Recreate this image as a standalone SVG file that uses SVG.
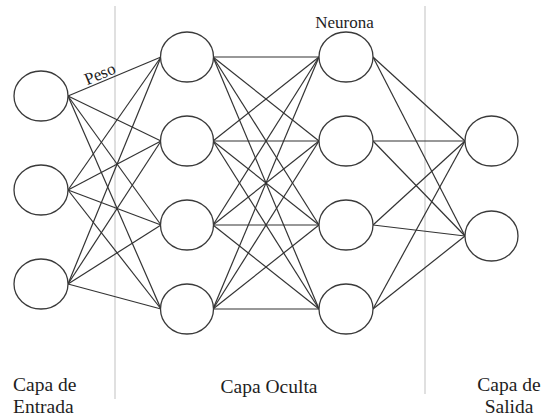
<svg xmlns="http://www.w3.org/2000/svg" width="542" height="418" viewBox="0 0 542 418">
<style>
.n{fill:#fff;stroke:#3a3a3a;stroke-width:1.3}
.c line{stroke:#333;stroke-width:1.2}
.sep{stroke:#d9d9d9;stroke-width:1.6}
.t{font-family:'Liberation Serif','DejaVu Serif',serif;fill:#1e1e1e}
.lbl{font-size:19.5px}
</style>
<rect width="542" height="418" fill="#fff"/>
<g id="separators">
<line class="sep" x1="115" y1="6" x2="115" y2="399"/>
<line class="sep" x1="425" y1="6" x2="425" y2="394"/>
</g>
<g id="connectors" class="c">
<line x1="68" y1="96" x2="161" y2="57"/>
<line x1="68" y1="96" x2="161" y2="141"/>
<line x1="68" y1="96" x2="161" y2="225"/>
<line x1="68" y1="96" x2="161" y2="309"/>
<line x1="68" y1="190" x2="161" y2="57"/>
<line x1="68" y1="190" x2="161" y2="141"/>
<line x1="68" y1="190" x2="161" y2="225"/>
<line x1="68" y1="190" x2="161" y2="309"/>
<line x1="68" y1="284" x2="161" y2="57"/>
<line x1="68" y1="284" x2="161" y2="141"/>
<line x1="68" y1="284" x2="161" y2="225"/>
<line x1="68" y1="284" x2="161" y2="309"/>
<line x1="213" y1="57" x2="319" y2="57"/>
<line x1="213" y1="57" x2="319" y2="141"/>
<line x1="213" y1="57" x2="319" y2="225"/>
<line x1="213" y1="57" x2="319" y2="309"/>
<line x1="213" y1="141" x2="319" y2="57"/>
<line x1="213" y1="141" x2="319" y2="141"/>
<line x1="213" y1="141" x2="319" y2="225"/>
<line x1="213" y1="141" x2="319" y2="309"/>
<line x1="213" y1="225" x2="319" y2="57"/>
<line x1="213" y1="225" x2="319" y2="141"/>
<line x1="213" y1="225" x2="319" y2="225"/>
<line x1="213" y1="225" x2="319" y2="309"/>
<line x1="213" y1="309" x2="319" y2="57"/>
<line x1="213" y1="309" x2="319" y2="141"/>
<line x1="213" y1="309" x2="319" y2="225"/>
<line x1="213" y1="309" x2="319" y2="309"/>
<line x1="373" y1="57" x2="465" y2="141"/>
<line x1="373" y1="57" x2="465" y2="236"/>
<line x1="373" y1="141" x2="465" y2="141"/>
<line x1="373" y1="141" x2="465" y2="236"/>
<line x1="373" y1="225" x2="465" y2="141"/>
<line x1="373" y1="225" x2="465" y2="236"/>
<line x1="373" y1="309" x2="465" y2="141"/>
<line x1="373" y1="309" x2="465" y2="236"/>
</g>
<g id="in1"><ellipse class="n" cx="41" cy="96" rx="27" ry="25"/></g>
<g id="in2"><ellipse class="n" cx="41" cy="190" rx="27" ry="25"/></g>
<g id="in3"><ellipse class="n" cx="41" cy="284" rx="27" ry="25"/></g>
<g id="h1a"><ellipse class="n" cx="187" cy="57" rx="26.5" ry="25"/></g>
<g id="h1b"><ellipse class="n" cx="187" cy="141" rx="26.5" ry="25"/></g>
<g id="h1c"><ellipse class="n" cx="187" cy="225" rx="26.5" ry="25"/></g>
<g id="h1d"><ellipse class="n" cx="187" cy="309" rx="26.5" ry="25"/></g>
<g id="h2a"><ellipse class="n" cx="346" cy="57" rx="27" ry="25"/></g>
<g id="h2b"><ellipse class="n" cx="346" cy="141" rx="27" ry="25"/></g>
<g id="h2c"><ellipse class="n" cx="346" cy="225" rx="27" ry="25"/></g>
<g id="h2d"><ellipse class="n" cx="346" cy="309" rx="27" ry="25"/></g>
<g id="out1"><ellipse class="n" cx="491.5" cy="141" rx="26.5" ry="25"/></g>
<g id="out2"><ellipse class="n" cx="491.5" cy="236" rx="26.5" ry="25"/></g>
<g id="labels" font-family="'Liberation Serif','DejaVu Serif',serif">
<text class="t" x="102" y="79" font-size="17" text-anchor="middle" transform="rotate(-22.8 102 79)">Peso</text>
<text class="t" x="344.5" y="28" font-size="17" text-anchor="middle">Neurona</text>
<text class="t lbl" x="13" y="391">Capa de</text>
<text class="t lbl" x="13" y="413">Entrada</text>
<text class="t lbl" x="269" y="393" text-anchor="middle">Capa Oculta</text>
<text class="t lbl" x="509" y="391" text-anchor="middle">Capa de</text>
<text class="t lbl" x="509" y="413" text-anchor="middle">Salida</text>
</g>
</svg>
